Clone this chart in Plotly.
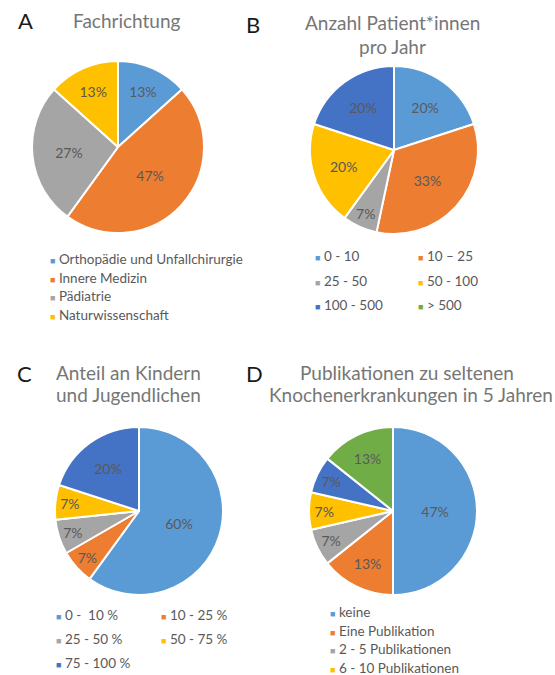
import plotly.graph_objects as go

W, H = 555, 675

# Office palette
BLUE, ORANGE, GREY, YELLOW, DBLUE, GREEN = (
    "#5B9BD5", "#ED7D31", "#A5A5A5", "#FFC000", "#4472C4", "#70AD47")

# A - Fachrichtung
a_labels = ["Orthopädie und Unfallchirurgie", "Innere Medizin", "Pädiatrie",
            "Naturwissenschaft"]
a_values = [2, 7, 4, 2]
a_text = ["13%", "47%", "27%", "13%"]
a_colors = [BLUE, ORANGE, GREY, YELLOW]

# B - Anzahl Patient*innen pro Jahr
b_labels = ["0 - 10", "10 – 25", "25 - 50", "50 - 100", "100 - 500", "> 500"]
b_values = [3, 5, 1, 3, 3, 0]
b_text = ["20%", "33%", "7%", "20%", "20%", ""]
b_colors = [BLUE, ORANGE, GREY, YELLOW, DBLUE, GREEN]

# C - Anteil an Kindern und Jugendlichen
c_labels = ["0 -  10 %", "10 - 25 %", "25 - 50 %", "50 - 75 %", "75 - 100 %"]
c_values = [9, 1, 1, 1, 3]
c_text = ["60%", "7%", "7%", "7%", "20%"]
c_colors = [BLUE, ORANGE, GREY, YELLOW, DBLUE]

# D - Publikationen (last two entries are cut off in the original legend)
d_labels = ["keine", "Eine Publikation", "2 - 5 Publikationen",
            "6 - 10 Publikationen", "11 - 20 Publikationen", "> 20 Publikationen"]
d_values = [7, 2, 1, 1, 1, 2]
d_text = ["47%", "13%", "7%", "7%", "7%", "13%"]
d_colors = [BLUE, ORANGE, GREY, YELLOW, DBLUE, GREEN]
d_legend_shown = 4

FONT = "Lato, 'Open Sans', sans-serif"
LABEL_COLOR = "#595959"
TITLE_COLOR = "#767676"


def px(x):
    return x / W


def py(y):
    return 1 - y / H


def pie(labels, values, texts, colors, cx, cy, r):
    return go.Pie(
        labels=labels, values=values, text=texts, textinfo="text",
        sort=False, direction="clockwise", rotation=0,
        marker=dict(colors=colors, line=dict(color="white", width=2)),
        textposition="inside", insidetextorientation="horizontal",
        textfont=dict(family=FONT, size=14, color=LABEL_COLOR),
        domain=dict(x=[px(cx - r), px(cx + r)], y=[py(cy + r), py(cy - r)]),
        showlegend=False, hoverinfo="label+percent",
    )


fig = go.Figure()
fig.add_trace(pie(a_labels, a_values, a_text, a_colors, 118, 147, 86))
fig.add_trace(pie(b_labels, b_values, b_text, b_colors, 394, 150, 84))
fig.add_trace(pie(c_labels, c_values, c_text, c_colors, 139, 511, 84))
fig.add_trace(pie(d_labels, d_values, d_text, d_colors, 393, 511, 84))

ann = []


def text(x, y, s, size, color, anchor="center"):
    ann.append(dict(x=px(x), y=py(y), xref="paper", yref="paper", text=s,
                    showarrow=False, xanchor=anchor, yanchor="middle",
                    font=dict(family=FONT, size=size, color=color)))


# panel letters
for letter, x, y in [("A", 25, 21), ("B", 253, 25), ("C", 24, 373), ("D", 254, 373)]:
    text(x, y, letter, 22, "#1a1a1a")

# titles
text(127, 21, "Fachrichtung", 19, TITLE_COLOR)
text(392, 22, "Anzahl Patient*innen", 19, TITLE_COLOR)
text(392, 47, "pro Jahr", 19, TITLE_COLOR)
text(128, 372, "Anteil an Kindern", 19, TITLE_COLOR)
text(128, 395, "und Jugendlichen", 19, TITLE_COLOR)
text(407, 372, "Publikationen zu seltenen", 19, TITLE_COLOR)
text(411, 395, "Knochenerkrankungen in 5 Jahren", 19, TITLE_COLOR)


def legend(labels, colors, x0, y0, col_w, row_h, ncols):
    for i, (lab, col) in enumerate(zip(labels, colors)):
        x = x0 + (i % ncols) * col_w
        y = y0 + (i // ncols) * row_h
        s = f'<span style="color:{col};font-size:9px">■</span> {lab}'
        text(x, y, s, 13.5, LABEL_COLOR, anchor="left")


legend(a_labels, a_colors, 48, 259, 0, 18.7, 1)
legend(b_labels, b_colors, 313, 256, 103, 24.5, 2)
legend(c_labels, c_colors, 54, 615, 105, 24, 2)
legend(d_labels[:d_legend_shown], d_colors[:d_legend_shown], 328, 612, 0, 18.7, 1)

fig.update_layout(
    width=W, height=H, margin=dict(l=0, r=0, t=0, b=0),
    paper_bgcolor="white", plot_bgcolor="white",
    annotations=ann,
    uniformtext=dict(minsize=13, mode="show"),
)

fig.write_html("out.html", config={"displayModeBar": False},
               post_script="document.body.style.margin='0';"
                           "document.body.style.overflow='hidden';")
